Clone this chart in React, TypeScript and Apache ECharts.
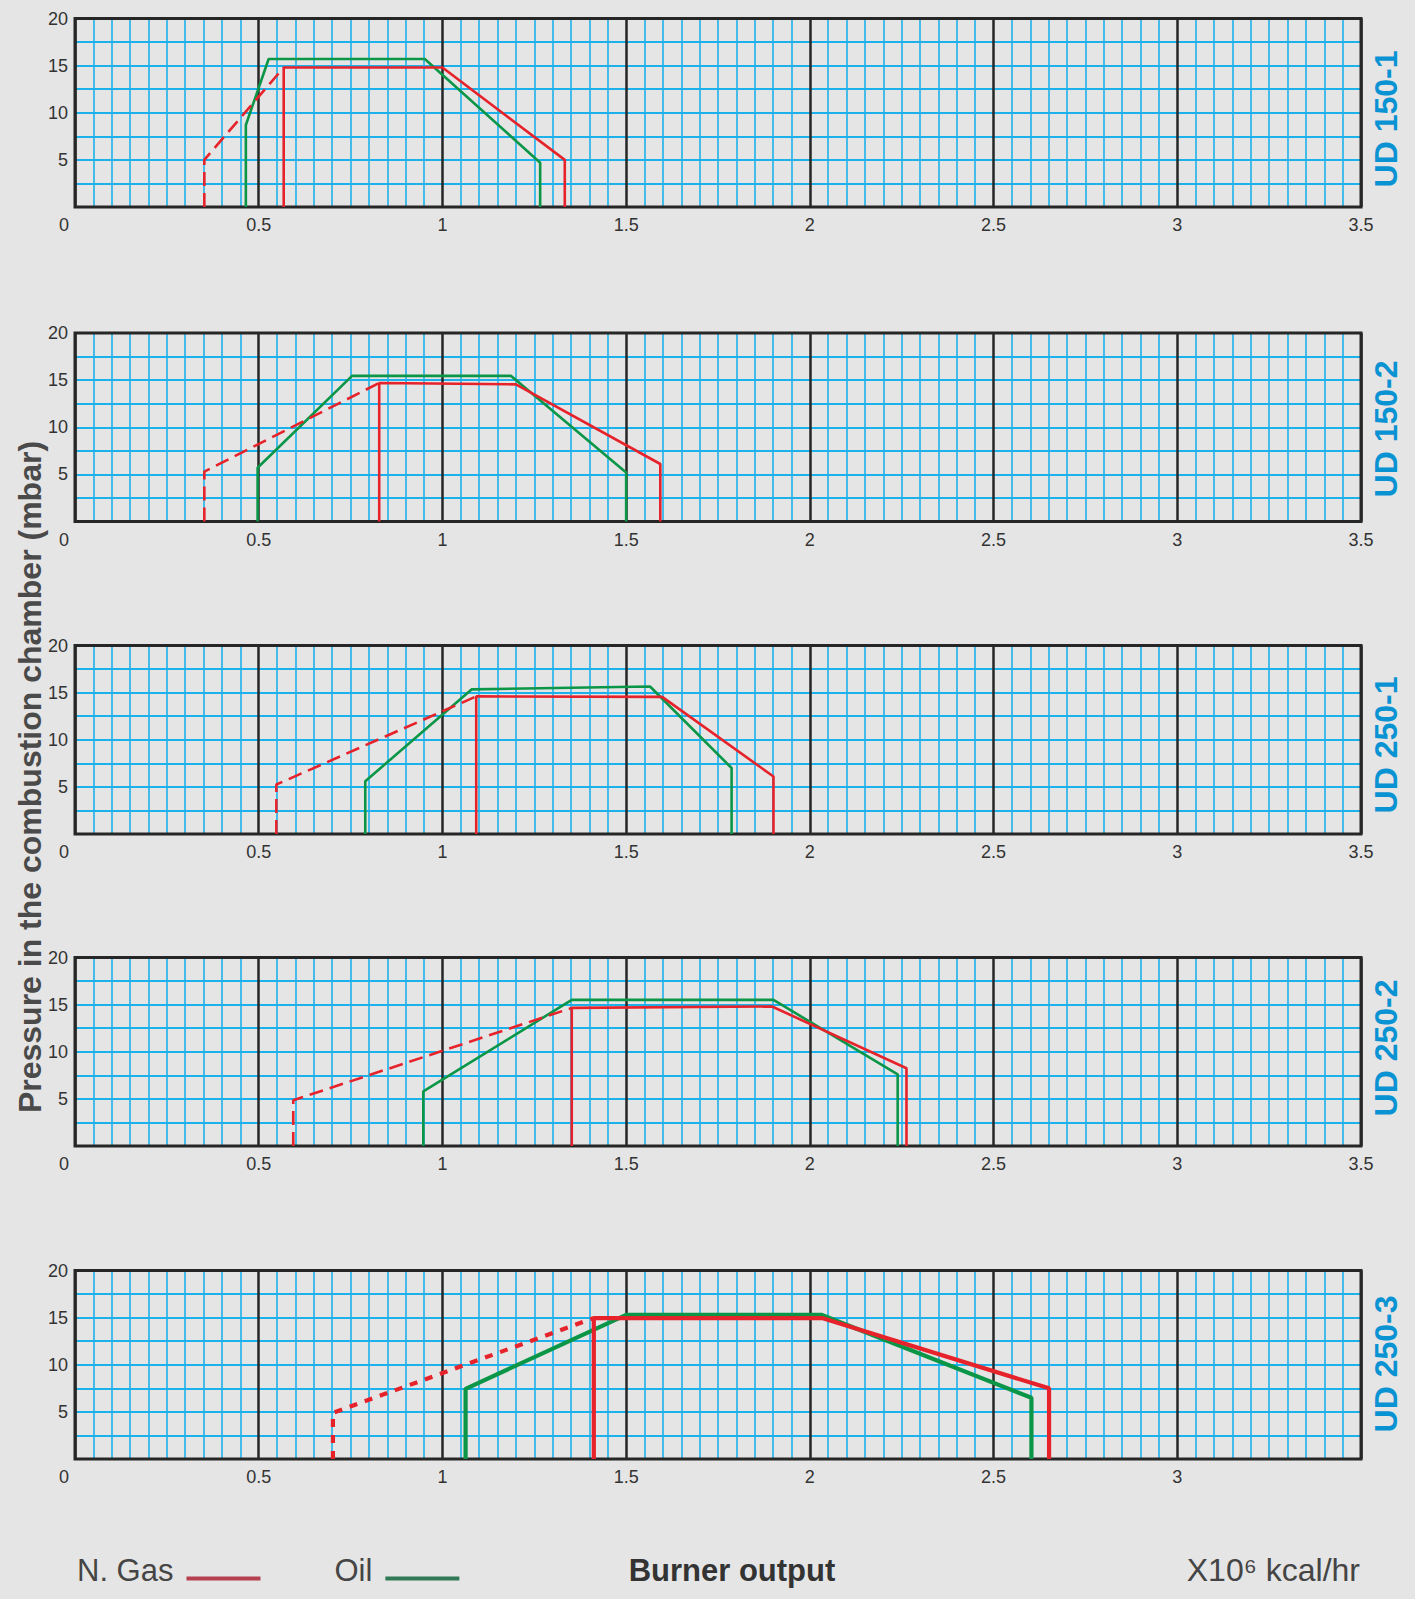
import React, { useEffect, useRef } from "react";
import * as echarts from "echarts";

// ---- Data (x: burner output x10^6 kcal/hr, y: pressure mbar) ----
const modelNames = ["UD 150-1", "UD 150-2", "UD 250-1", "UD 250-2", "UD 250-3"];

const gas1 = [[0.568, 0], [0.568, 14.8], [1.0, 14.8], [1.333, 5.0], [1.333, 0]];
const gasIgn1 = [[0.352, 0], [0.352, 5.0], [0.568, 14.8]];
const oil1 = [[0.465, 0], [0.465, 8.7], [0.527, 15.7], [0.952, 15.7], [1.266, 4.7], [1.266, 0]];

const gas2 = [[0.828, 0], [0.828, 14.7], [1.2, 14.55], [1.593, 6.1], [1.593, 0]];
const gasIgn2 = [[0.352, 0], [0.352, 5.3], [0.828, 14.7]];
const oil2 = [[0.497, 0], [0.497, 5.7], [0.754, 15.45], [1.187, 15.45], [1.5, 5.2], [1.5, 0]];

const gas3 = [[1.092, 0], [1.092, 14.6], [1.598, 14.55], [1.901, 6.1], [1.901, 0]];
const gasIgn3 = [[0.548, 0], [0.548, 5.25], [1.092, 14.6]];
const oil3 = [[0.79, 0], [0.79, 5.6], [1.08, 15.35], [1.565, 15.65], [1.787, 7.0], [1.787, 0]];

const gas4 = [[1.352, 0], [1.352, 14.65], [1.897, 14.8], [2.263, 8.25], [2.263, 0]];
const gasIgn4 = [[0.594, 0], [0.594, 4.85], [1.352, 14.65]];
const oil4 = [[0.948, 0], [0.948, 5.8], [1.352, 15.5], [1.901, 15.5], [2.239, 7.6], [2.239, 0]];

const gas5 = [[1.412, 0], [1.412, 14.95], [2.033, 14.95], [2.651, 7.5], [2.651, 0]];
const gasIgn5 = [[0.702, 0], [0.702, 4.9], [1.412, 14.95]];
const oil5 = [[1.063, 0], [1.063, 7.45], [1.5, 15.3], [2.031, 15.3], [2.603, 6.5], [2.603, 0]];

const gasSeries = [gas1, gas2, gas3, gas4, gas5];
const gasIgnSeries = [gasIgn1, gasIgn2, gasIgn3, gasIgn4, gasIgn5];
const oilSeries = [oil1, oil2, oil3, oil4, oil5];

const X_MIN = 0;
const X_MAX = 3.5;
const X_STEP = 0.5;
const Y_MIN = 0;
const Y_MAX = 20;
const Y_STEP = 5;

const legendNames = ["N. Gas", "Oil"];
const yTitle = "Pressure in the combustion chamber (mbar)";
const xTitle = "Burner output";
const unitText = "X10\u2076 kcal/hr";

// ---- Layout / style ----
const GRID_TOPS = [18.5, 333, 645.5, 957.5, 1270.5];
const GRID_H = 188.5;
const GRID_LEFT = 75;
const GRID_W = 1286;
const LABEL_Y = [119, 429, 745, 1048, 1364];

const BG = "#e5e5e5";
const RED = "#e6222b";
const GREEN = "#0b9647";
const CYAN = "#1cb1ea";
const BLACK = "#262626";
const BLUE = "#0a93d3";
const FONT = "'Liberation Sans', Arial, Helvetica, sans-serif";
// legend swatch: a bar sitting low in a 74x20 box (tiny dot at top keeps the box height)
const LEGEND_ICON = "path://M0,16L74,16L74,20L0,20Z M0,0L0.05,0L0.05,0.05L0,0.05Z";

export default function App() {
  const ref = useRef<HTMLDivElement>(null);

  useEffect(() => {
    document.body.style.margin = "0";
    document.body.style.background = BG;
    const chart = echarts.init(ref.current as HTMLDivElement, null, { renderer: "svg" });

    const grids = GRID_TOPS.map((top) => ({
      left: GRID_LEFT,
      top,
      width: GRID_W,
      height: GRID_H,
      show: true,
      z: 3,
      backgroundColor: "transparent",
      borderColor: BLACK,
      borderWidth: 3,
    }));

    const xAxes = GRID_TOPS.map((_, i) => ({
      type: "value",
      gridIndex: i,
      min: X_MIN,
      max: X_MAX,
      interval: X_STEP,
      z: 2,
      axisLine: { show: false },
      axisTick: { show: false },
      axisLabel: {
        show: true,
        margin: 9,
        fontSize: 18,
        color: "#333",
        fontFamily: FONT,
        showMaxLabel: i < 4,
        formatter: (v: number) => (v === 0 ? "{z|0}" : String(v)),
        rich: { z: { fontSize: 18, color: "#333", fontFamily: FONT, padding: [0, 22, 0, 0] } },
      },
      splitLine: { show: true, lineStyle: { color: BLACK, width: 2.5 } },
      minorTick: { show: false, splitNumber: 10 },
      minorSplitLine: { show: true, lineStyle: { color: CYAN, width: 1.6 } },
    }));

    const yAxes = GRID_TOPS.map((_, i) => ({
      type: "value",
      gridIndex: i,
      min: Y_MIN,
      max: Y_MAX,
      interval: Y_STEP,
      z: 1,
      axisLine: { show: false },
      axisTick: { show: false },
      axisLabel: {
        show: true,
        showMinLabel: false,
        margin: 7,
        fontSize: 18,
        color: "#333",
        fontFamily: FONT,
      },
      splitLine: { show: true, showMinLine: false, showMaxLine: false, lineStyle: { color: CYAN, width: 2 } },
      minorTick: { show: false, splitNumber: 2 },
      minorSplitLine: { show: true, lineStyle: { color: CYAN, width: 2 } },
    }));

    const series: any[] = [];
    GRID_TOPS.forEach((_, i) => {
      const w = i === 4 ? 4.2 : 2.6;
      const dash = i === 4 ? [8, 8] : [14, 7];
      series.push({
        type: "line",
        name: legendNames[1],
        xAxisIndex: i,
        yAxisIndex: i,
        data: oilSeries[i],
        symbol: "none",
        z: 5,
        lineStyle: { color: GREEN, width: w },
        itemStyle: { color: GREEN },
      });
      series.push({
        type: "line",
        name: legendNames[0],
        xAxisIndex: i,
        yAxisIndex: i,
        data: gasIgnSeries[i],
        symbol: "none",
        z: 5,
        lineStyle: { color: RED, width: w, type: dash },
        itemStyle: { color: RED },
      });
      series.push({
        type: "line",
        name: legendNames[0],
        xAxisIndex: i,
        yAxisIndex: i,
        data: gasSeries[i],
        symbol: "none",
        z: 6,
        lineStyle: { color: RED, width: w },
        itemStyle: { color: RED },
      });
    });

    const graphics: any[] = [
      {
        type: "text",
        x: 30,
        y: 777,
        rotation: Math.PI / 2,
        style: {
          text: yTitle,
          fontSize: 32,
          fontWeight: "bold",
          fontFamily: FONT,
          fill: "#4a4a4a",
          align: "center",
          verticalAlign: "middle",
          textAlign: "center",
          textVerticalAlign: "middle",
        },
      },
      {
        type: "text",
        x: 732,
        y: 1570,
        style: {
          text: xTitle,
          fontSize: 31,
          fontWeight: "bold",
          fontFamily: FONT,
          fill: "#333",
          align: "center",
          verticalAlign: "middle",
          textAlign: "center",
          textVerticalAlign: "middle",
        },
      },
      {
        type: "text",
        x: 1360,
        y: 1570,
        style: {
          text: unitText,
          fontSize: 32,
          fontFamily: FONT,
          fill: "#444",
          align: "right",
          verticalAlign: "middle",
          textAlign: "right",
          textVerticalAlign: "middle",
        },
      },
      ...modelNames.map((name, i) => ({
        type: "text",
        x: 1386,
        y: LABEL_Y[i],
        rotation: Math.PI / 2,
        style: {
          text: name,
          fontSize: 32,
          fontWeight: "bold",
          fontFamily: FONT,
          fill: BLUE,
          align: "center",
          verticalAlign: "middle",
          textAlign: "center",
          textVerticalAlign: "middle",
        },
      })),
    ];

    chart.setOption({
      animation: false,
      backgroundColor: BG,
      grid: grids,
      xAxis: xAxes,
      yAxis: yAxes,
      series,
      legend: {
        left: 72,
        top: 1550,
        align: "right",
        icon: LEGEND_ICON,
        itemWidth: 74,
        itemHeight: 20,
        itemGap: 74,
        selectedMode: false,
        textStyle: { fontSize: 31, color: "#454545", fontFamily: FONT, padding: [0, 8, 0, 0] },
        data: [
          { name: legendNames[0], itemStyle: { color: "#b6404f" } },
          { name: legendNames[1], itemStyle: { color: "#2f7a55" } },
        ],
      },
      graphic: graphics,
    });

    return () => {
      chart.dispose();
    };
  }, []);

  return <div ref={ref} style={{ width: 1415, height: 1599, background: BG }} />;
}
